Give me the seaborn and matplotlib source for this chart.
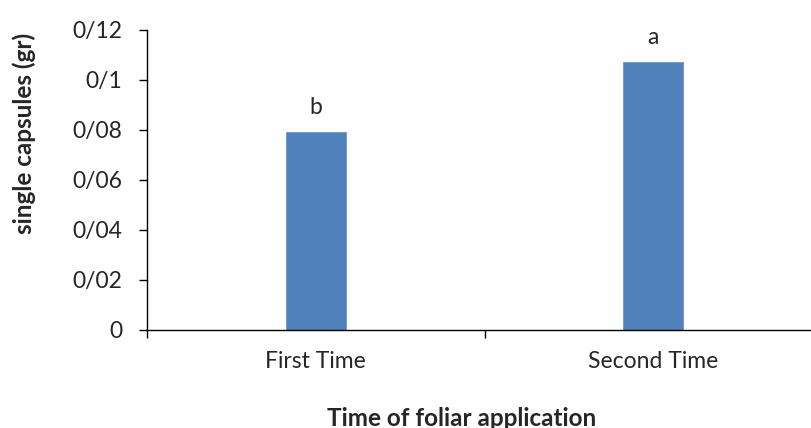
import pandas as pd
import seaborn as sns
from matplotlib import pyplot as plt

# data
categories = ['First Time', 'Second Time']
capsule_weight = [0.079, 0.107]
letters = ['b', 'a']
y_ticks = [0, 0.02, 0.04, 0.06, 0.08, 0.10, 0.12]
y_tick_labels = ['0', '0/02', '0/04', '0/06', '0/08', '0/1', '0/12']

sns.set_style('white')
plt.rcParams['font.family'] = ['Lato', 'DejaVu Sans']

df = pd.DataFrame({'time': categories, 'weight': capsule_weight})

fig = plt.figure(figsize=(8.11, 4.28), dpi=100)
# axis runs off the right edge, like the cropped original
ax = fig.add_axes([147 / 811, 98 / 428, 675 / 811, 300.5 / 428])

sns.barplot(data=df, x='time', y='weight', color='#4F81BD', saturation=1,
            width=0.178, edgecolor='#6A95C9', linewidth=0.6, ax=ax)

ax.bar_label(ax.containers[0], labels=letters, padding=10, fontsize=16.5)

ax.set_xlim(-0.5, 1.5)
ax.set_ylim(0, 0.12)
ax.set_yticks(y_ticks)
ax.set_yticklabels(y_tick_labels)

# category labels on minor ticks, tick marks at the category borders
ax.set_xticks([-0.5, 0.5, 1.5])
ax.set_xticklabels(['', '', ''])
ax.set_xticks([0, 1], minor=True)
ax.set_xticklabels(categories, minor=True)
ax.tick_params(axis='x', which='major', length=6, width=1, direction='out',
               color='black', bottom=True)
ax.tick_params(axis='x', which='minor', length=0, pad=15, labelsize=16.5)
ax.tick_params(axis='y', length=6, width=1, direction='out', color='black',
               left=True, pad=12, labelsize=16.5)

ax.set_xlabel('')
ax.set_ylabel('')
for side in ['top', 'right']:
    ax.spines[side].set_visible(False)
for side in ['left', 'bottom']:
    ax.spines[side].set_color('black')
    ax.spines[side].set_linewidth(1.0)

fig.text(24 / 811, 1 - 133.5 / 428, 'single capsules (gr)', rotation=90,
         ha='center', va='center', fontsize=17.5, fontweight='bold')
fig.text(462 / 811, 1 - 418 / 428, 'Time of foliar application',
         ha='center', va='center', fontsize=17.5, fontweight='bold')

plt.savefig('out.png', dpi=100)
